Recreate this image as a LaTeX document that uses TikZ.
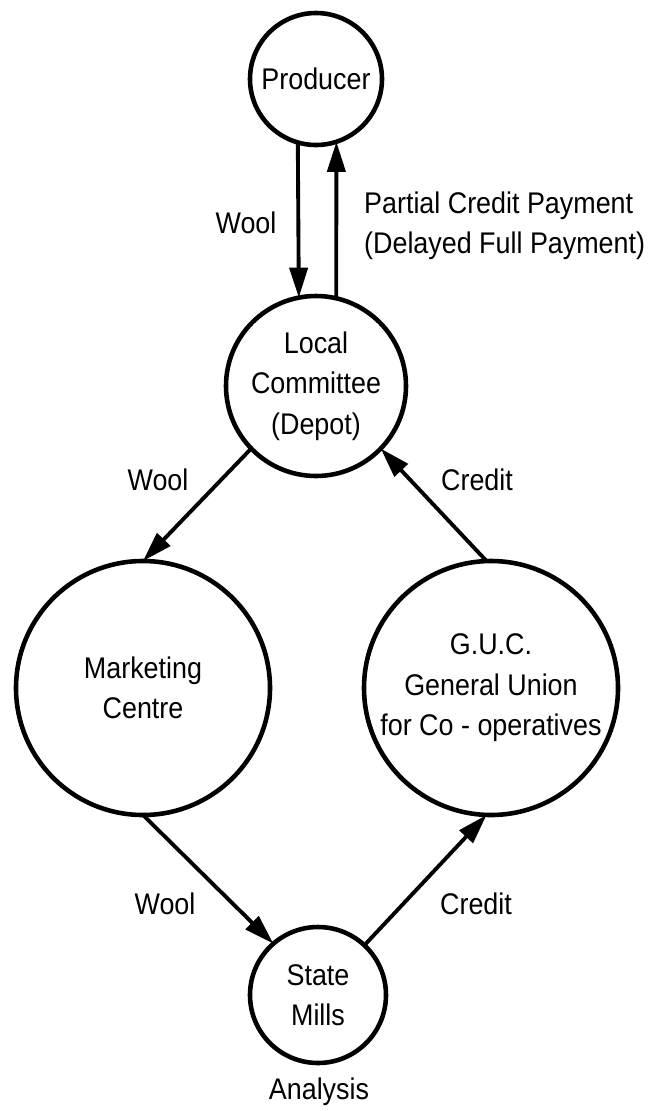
\documentclass[tikz,border=0pt]{standalone}
\usepackage{fontspec}
\setmainfont{Liberation Sans}[FakeStretch=0.9]
\usetikzlibrary{arrows.meta}

\begin{document}
\begin{tikzpicture}[
    font=\fontsize{17}{23}\selectfont,
    circ/.style={draw, circle, line width=2.6pt, inner sep=0pt, outer sep=0pt, align=center},
    flow/.style={-{Triangle[length=0.6cm, width=0.36cm]}, line width=2.2pt}
]
    \useasboundingbox (0,0) rectangle (13.22,-22.22);

    % TOP: Producer and Local Committee
    \node[circ, minimum size=2.64cm] (prod) at (6.32,-1.58) {Producer};
    \node[circ, minimum size=3.6cm] (local) at (6.32,-7.72) {Local\\Committee\\(Depot)};
    \draw[flow] (prod.254) -- (local.101);
    \draw[flow] (local.77) -- (prod.288);
    \node (wool1) at (4.92,-4.46) {Wool};
    \node[anchor=west, align=left] (pay) at (7.16,-4.52) {Partial Credit Payment\\(Delayed Full Payment)};

    % MIDDLE: Marketing Centre and G.U.C.
    \node[circ, minimum size=5.08cm] (mkt) at (2.86,-13.76) {Marketing\\Centre};
    \node[circ, minimum size=5.08cm] (guc) at (9.82,-13.76) {G.U.C.\\General Union\\for Co - operatives};
    \draw[flow] (local.224) -- (mkt.90);
    \draw[flow] (guc.92) -- (local.316);
    \node (wool2) at (3.16,-9.60) {Wool};
    \node (cred1) at (9.54,-9.60) {Credit};

    % BOTTOM: State Mills
    \node[circ, minimum size=2.72cm] (mills) at (6.36,-19.90) {State\\Mills};
    \draw[flow] (mkt.270) -- (mills.131);
    \draw[flow] (mills.47) -- (guc.268);
    \node (wool3) at (3.30,-18.08) {Wool};
    \node (cred2) at (9.52,-18.08) {Credit};
    \node (anl) at (6.38,-21.84) {Analysis};
\end{tikzpicture}
\end{document}
